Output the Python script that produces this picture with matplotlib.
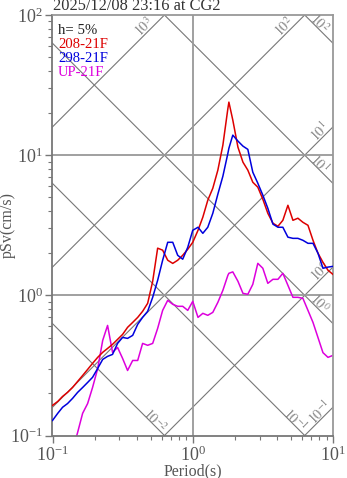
import numpy as np
import matplotlib
matplotlib.use('Agg')
import matplotlib.pyplot as plt
from matplotlib.ticker import NullFormatter

# periods (s)
period = [0.10, 0.109, 0.118, 0.128, 0.139, 0.151, 0.164, 0.178, 0.193, 0.21,
          0.228, 0.247, 0.268, 0.291, 0.316, 0.343, 0.373, 0.405, 0.439, 0.477,
          0.518, 0.562, 0.61, 0.663, 0.72, 0.781, 0.848, 0.921, 1.0, 1.09,
          1.18, 1.28, 1.39, 1.51, 1.64, 1.78, 1.81, 1.93, 2.1, 2.28,
          2.47, 2.68, 2.91, 3.16, 3.43, 3.73, 4.05, 4.39, 4.77, 5.18,
          5.62, 6.1, 6.63, 7.2, 7.81, 8.48, 9.21, 10.0]

# pSv (cm/s)
sv_208 = [0.164, 0.175, 0.190, 0.203, 0.220, 0.243, 0.268, 0.296, 0.327, 0.361,
          0.392, 0.418, 0.447, 0.485, 0.526, 0.591, 0.641, 0.696, 0.769, 0.877,
          1.26, 2.17, 2.10, 1.78, 1.69, 1.78, 1.93, 2.13, 2.39, 2.91,
          3.61, 4.77, 5.81, 7.82, 11.8, 21.5, 23.9, 17.8, 11.4, 8.91,
          7.82, 6.41, 5.91, 4.85, 3.85, 3.27, 3.11, 3.43, 4.39, 3.43,
          3.55, 3.32, 3.16, 2.47, 2.00, 1.72, 1.51, 1.41]
sv_298 = [0.128, 0.144, 0.159, 0.169, 0.184, 0.203, 0.220, 0.239, 0.260, 0.301,
          0.349, 0.367, 0.379, 0.454, 0.501, 0.493, 0.518, 0.621, 0.696, 0.769,
          0.968, 1.28, 1.78, 2.39, 2.39, 1.93, 1.81, 2.20, 2.91, 3.06,
          2.77, 3.06, 3.85, 5.27, 7.08, 10.3, 11.2, 13.9, 12.6, 11.6,
          11.0, 7.56, 6.31, 5.18, 4.18, 3.22, 3.06, 3.06, 2.60, 2.55,
          2.55, 2.47, 2.35, 2.35, 2.00, 1.56, 1.59, 1.61]
sv_up = [np.nan, np.nan, np.nan, np.nan, 0.078, 0.105, 0.144, 0.169, 0.220, 0.30,
         0.477, 0.610, 0.392, 0.425, 0.355, 0.291, 0.343, 0.343, 0.454, 0.44,
         0.454, 0.581, 0.781, 0.921, 0.863, 0.835, 0.835, 0.781, 0.906, 0.696,
         0.744, 0.72, 0.756, 0.891, 1.086, 1.389, 1.436, 1.47, 1.26, 1.033,
         1.017, 1.198, 1.692, 1.56, 1.218, 1.301, 1.301, 1.436, 1.179, 0.968,
         0.968, 0.952, 0.781, 0.641, 0.501, 0.39, 0.361, 0.373]

acc_levels = [1e3, 1e2, 1e1, 1e0, 1e-1]    # gal
disp_levels = [1e2, 1e1, 1e0, 1e-1, 1e-2]  # cm

title = "2025/12/08 23:16 at CG2"
legend_lines = [('h= 5%', '#222222'), ('208-21F', '#dd0000'),
                ('298-21F', '#0000dd'), ('UP-21F', '#dd00dd')]

plt.rcParams['font.family'] = ['Liberation Serif', 'DejaVu Serif']
plt.rcParams['mathtext.fontset'] = 'stix'

W, H = 347, 478
fig = plt.figure(figsize=(W / 100, H / 100), dpi=100)
ax = fig.add_axes([52.5 / W, 1 - 435.5 / H, 280.5 / W, 420.5 / H])
ax.set_xscale('log')
ax.set_yscale('log')

# tripartite lines
tt = np.array([0.01, 100.0])
px = 0.72  # points per pixel
for a in acc_levels:
    ax.plot(tt, a * tt / (2 * np.pi), color='#777777', lw=0.8, zorder=1)
    if a * 10 / (2 * np.pi) > 100:
        xy = (2 * np.pi * 100 / a, 100)
        off = (-20 * px, -12 * px)
    else:
        xy = (10, a * 10 / (2 * np.pi))
        off = (-13 * px, -5 * px)
    ax.annotate('$10^{%d}$' % round(np.log10(a)), xy=xy, xytext=off,
                textcoords='offset points', rotation=45, ha='center', va='center',
                color='#888888', fontsize=10, annotation_clip=False)
for d in disp_levels:
    ax.plot(tt, 2 * np.pi * d / tt, color='#777777', lw=0.8, zorder=1)
    if 2 * np.pi * d / 10 >= 0.1:
        xy = (10, 2 * np.pi * d / 10)
        off = (-14 * px, 20 * px)
    else:
        xy = (2 * np.pi * d / 0.1, 0.1)
        off = (-10 * px, 15 * px)
    ax.annotate('$10^{%d}$' % round(np.log10(d)), xy=xy, xytext=off,
                textcoords='offset points', rotation=-45, ha='center', va='center',
                color='#888888', fontsize=10, annotation_clip=False)

ax.axvline(1, color='#999999', lw=1.3, zorder=1)
ax.axhline(10, color='#999999', lw=1.3, zorder=1)
ax.axhline(1, color='#999999', lw=1.3, zorder=1)

ax.plot(period, sv_208, color='#dd0000', lw=1.1, zorder=3)
ax.plot(period, sv_298, color='#0000dd', lw=1.1, zorder=3)
ax.plot(period, sv_up, color='#dd00dd', lw=1.1, zorder=2)

ax.set_xlim(0.1, 10)
ax.set_ylim(0.1, 100)

for s in ax.spines.values():
    s.set_color('#999999')
    s.set_linewidth(1.3)
ax.spines['left'].set_color('#777777')
ax.spines['bottom'].set_color('#777777')
ax.tick_params(which='both', direction='out', color='#777777', labelcolor='#555555',
               top=False, right=False)
ax.tick_params(which='major', length=5, width=1, labelsize=13, pad=2)
ax.tick_params(which='minor', length=3, width=0.8)
ax.xaxis.set_minor_formatter(NullFormatter())
ax.yaxis.set_minor_formatter(NullFormatter())

for i, (txt, col) in enumerate(legend_lines):
    ax.text(0.02, (435.5 - 30 - 14 * i) / 420.5, txt, transform=ax.transAxes,
            va='center', fontsize=10.6, color=col)

fig.text(53 / W, 1 - 10.5 / H, title, ha='left', va='baseline', fontsize=11.8, color='#333333')
fig.text(193 / W, 1 - 471 / H, 'Period(s)', ha='center', va='center', fontsize=11.5, color='#555555')
fig.text(8 / W, 1 - 225 / H, 'pSv(cm/s)', ha='center', va='center', rotation=90,
         fontsize=11.5, color='#555555')

fig.savefig('out.png', dpi=100)
